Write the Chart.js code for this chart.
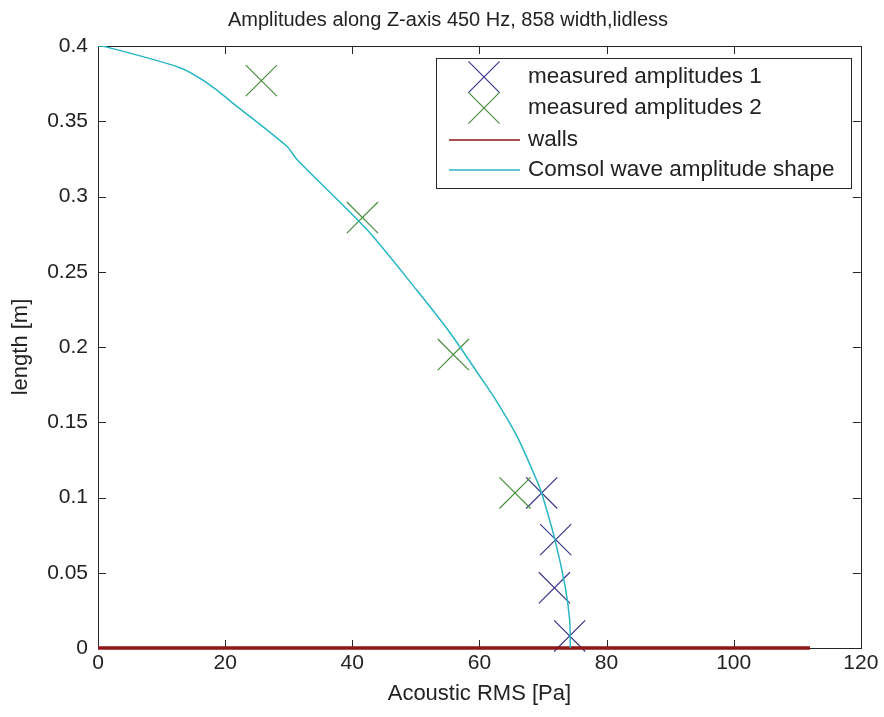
<!DOCTYPE html>
<html>
<head>
<meta charset="utf-8">
<script src="https://cdn.jsdelivr.net/npm/chart.js@4/dist/chart.umd.min.js"></script>
<style>
  html, body { margin: 0; padding: 0; background: #ffffff; }
  #wrap { width: 884px; height: 717px; }
</style>
</head>
<body>
<div id="wrap"><canvas id="c" width="884" height="717"></canvas></div>
<script>
// Measured RMS amplitudes [Pa] against position along the Z-axis [m]
const amp1 = [69.8, 72.0, 71.8, 74.2];
const len1 = [0.103, 0.072, 0.040, 0.008];
const amp2 = [25.7, 41.6, 55.9, 65.6];
const len2 = [0.377, 0.286, 0.195, 0.103];

// Wall line along the bottom of the duct
const wallAmp = [0, 112];
const wallLen = [0, 0];

// Simulated wave amplitude shape (Comsol)
const comsolAmp = [0, 1.1, 12.9, 17.1, 21.8, 29.7, 31.3, 42.3, 50.1, 55.4, 60.1, 62.4, 66.0, 69.0, 69.8, 71.9, 73.5, 74.2, 74.3];
const comsolLen = [0.400, 0.3996, 0.3856, 0.3756, 0.3601, 0.3334, 0.3246, 0.278, 0.238, 0.2093, 0.1804, 0.166, 0.140, 0.1116, 0.1028, 0.0717, 0.0406, 0.0184, 0.0];

const xTicks = [0, 20, 40, 60, 80, 100, 120];
const yTicks = [0, 0.05, 0.1, 0.15, 0.2, 0.25, 0.3, 0.35, 0.4];
const yTickLabels = ['0', '0.05', '0.1', '0.15', '0.2', '0.25', '0.3', '0.35', '0.4'];

const titleText = 'Amplitudes along Z-axis 450 Hz, 858 width,lidless';
const legendLabels = ['measured amplitudes 1', 'measured amplitudes 2', 'walls', 'Comsol wave amplitude shape'];

const FONT = "'Liberation Sans', Arial, sans-serif";
const TEXT = '#222222';
const FRAME = '#262626';
const BLUE = '#38388c';
const GREEN = '#478f3c';
const RED = '#8e1616';
const CYAN = '#26b6c4';
const MARK_R = 22;

const pts = (xs, ys) => xs.map((x, i) => ({ x: x, y: ys[i] }));

function drawCross(ctx, x, y, r, color) {
  const d = r * Math.SQRT1_2;
  ctx.save();
  ctx.strokeStyle = color;
  ctx.lineWidth = 1.2;
  ctx.beginPath();
  ctx.moveTo(x - d, y - d); ctx.lineTo(x + d, y + d);
  ctx.moveTo(x + d, y - d); ctx.lineTo(x - d, y + d);
  ctx.stroke();
  ctx.restore();
}

// Box around the axes with inward tick marks on all four sides
const framePlugin = {
  id: 'frame',
  beforeDatasetsDraw(chart) {
    const { ctx, chartArea: a, scales } = chart;
    ctx.save();
    ctx.strokeStyle = FRAME;
    ctx.lineWidth = 1;
    ctx.strokeRect(Math.round(a.left) + 0.5, Math.round(a.top) + 0.5,
                   Math.round(a.right - a.left), Math.round(a.bottom - a.top));
    const tl = 8;
    ctx.beginPath();
    xTicks.forEach(v => {
      const px = Math.round(scales.x.getPixelForValue(v)) + 0.5;
      ctx.moveTo(px, a.bottom); ctx.lineTo(px, a.bottom - tl);
      ctx.moveTo(px, a.top); ctx.lineTo(px, a.top + tl);
    });
    yTicks.forEach(v => {
      const py = Math.round(scales.y.getPixelForValue(v)) + 0.5;
      ctx.moveTo(a.left, py); ctx.lineTo(a.left + tl, py);
      ctx.moveTo(a.right, py); ctx.lineTo(a.right - tl, py);
    });
    ctx.stroke();
    ctx.restore();
  }
};

// Title and the legend box inside the upper right of the axes
const annotPlugin = {
  id: 'annot',
  afterDraw(chart) {
    const { ctx } = chart;
    ctx.save();
    ctx.fillStyle = TEXT;
    ctx.font = '20px ' + FONT;
    ctx.textAlign = 'center';
    ctx.textBaseline = 'middle';
    ctx.fillText(titleText, 448, 20);

    const bx = 436, by = 58, bw = 415, bh = 130;
    ctx.fillStyle = '#ffffff';
    ctx.fillRect(bx, by, bw, bh);
    ctx.strokeStyle = FRAME;
    ctx.lineWidth = 1;
    ctx.strokeRect(bx + 0.5, by + 0.5, bw, bh);

    const rows = [77, 108, 140, 170];
    drawCross(ctx, 484, rows[0], MARK_R, BLUE);
    drawCross(ctx, 484, rows[1], MARK_R, GREEN);
    ctx.lineWidth = 1.5;
    ctx.strokeStyle = RED;
    ctx.beginPath(); ctx.moveTo(449, rows[2]); ctx.lineTo(520, rows[2]); ctx.stroke();
    ctx.strokeStyle = CYAN;
    ctx.beginPath(); ctx.moveTo(449, rows[3]); ctx.lineTo(520, rows[3]); ctx.stroke();

    ctx.fillStyle = TEXT;
    ctx.font = '22.5px ' + FONT;
    ctx.textAlign = 'left';
    legendLabels.forEach((t, i) => ctx.fillText(t, 528, rows[i]));
    ctx.restore();
  }
};

const crossStyle = (color) => ({
  showLine: false,
  pointStyle: 'crossRot',
  pointRadius: MARK_R,
  pointHoverRadius: MARK_R,
  pointBorderColor: color,
  pointBackgroundColor: color,
  pointBorderWidth: 1.2,
  borderColor: color
});

new Chart(document.getElementById('c'), {
  type: 'scatter',
  data: {
    datasets: [
      {
        label: legendLabels[3],
        data: pts(comsolAmp, comsolLen),
        showLine: true,
        borderColor: CYAN,
        borderWidth: 1.5,
        pointRadius: 0,
        tension: 0.25
      },
      {
        label: legendLabels[2],
        data: pts(wallAmp, wallLen),
        showLine: true,
        borderColor: RED,
        borderWidth: 3.5,
        pointRadius: 0,
        clip: 4
      },
      Object.assign({ label: legendLabels[1], data: pts(amp2, len2), clip: false }, crossStyle(GREEN)),
      Object.assign({ label: legendLabels[0], data: pts(amp1, len1), clip: false }, crossStyle(BLUE))
    ]
  },
  options: {
    responsive: false,
    animation: false,
    devicePixelRatio: 1,
    layout: { padding: { left: 0, top: 46, right: 23, bottom: 0 } },
    plugins: {
      legend: { display: false },
      title: { display: false },
      tooltip: { enabled: false }
    },
    scales: {
      x: {
        type: 'linear',
        min: 0, max: 120,
        afterBuildTicks: (s) => { s.ticks = xTicks.map(v => ({ value: v })); },
        afterFit: (s) => { s.height = 69; },
        grid: { display: false, drawTicks: false },
        border: { display: false },
        ticks: {
          padding: 3,
          color: TEXT,
          font: { family: FONT, size: 21 },
          maxRotation: 0,
          callback: (v) => String(v)
        },
        title: {
          display: true,
          text: 'Acoustic RMS [Pa]',
          color: TEXT,
          font: { family: FONT, size: 22 },
          padding: { top: 0, bottom: 10 }
        }
      },
      y: {
        type: 'linear',
        min: 0, max: 0.4,
        afterBuildTicks: (s) => { s.ticks = yTicks.map(v => ({ value: v })); },
        afterFit: (s) => { s.width = 98; },
        grid: { display: false, drawTicks: false },
        border: { display: false },
        ticks: {
          padding: 10,
          color: TEXT,
          font: { family: FONT, size: 21 },
          callback: (v) => yTickLabels[yTicks.findIndex(t => Math.abs(t - v) < 1e-9)] ?? String(v)
        },
        title: {
          display: true,
          text: 'length [m]',
          color: TEXT,
          font: { family: FONT, size: 22 },
          padding: { top: 8, bottom: 0 }
        }
      }
    }
  },
  plugins: [framePlugin, annotPlugin]
});
</script>
</body>
</html>
